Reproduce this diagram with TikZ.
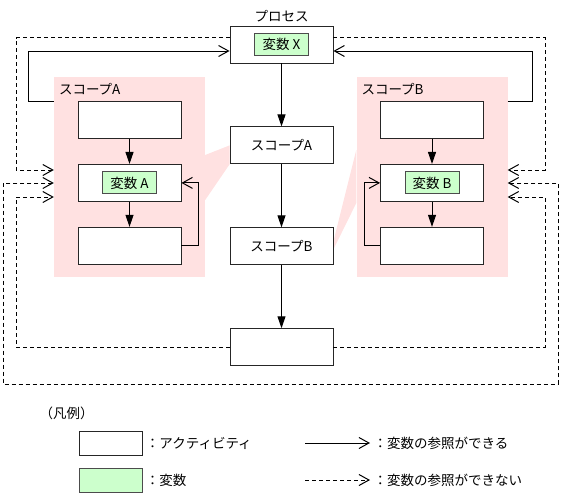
\documentclass[tikz,border=0pt]{standalone}
\usepackage{fontspec}
\setmainfont{Noto Sans CJK JP}
\usetikzlibrary{arrows.meta, positioning, backgrounds}
\definecolor{scopepink}{RGB}{255,225,225}
\definecolor{vargreen}{RGB}{204,255,204}

\begin{document}
\begin{tikzpicture}[
    x=1pt, y=-1pt,
    node distance=63pt,
    font=\fontsize{13.5}{15}\selectfont,
    whitebox/.style={rectangle, draw=black!85, fill=white, line width=0.9pt, minimum width=103pt, minimum height=37pt, inner sep=0pt},
    greenbox/.style={rectangle, draw=black!70, fill=vargreen, line width=0.9pt, minimum width=54pt, minimum height=22pt, inner sep=0pt},
    pinkarea/.style={rectangle, fill=scopepink, minimum width=151pt, minimum height=200pt, inner sep=0pt},
    flow/.style={-{Triangle[length=12pt, width=8pt]}, line width=1pt},
    ref/.style={-{Straight Barb[length=10pt, width=11pt]}, line width=1pt, draw=black},
    noref/.style={ref, dash pattern=on 4pt off 3pt},
    ]
    \useasboundingbox (0,0) rectangle (561,495);

    % scope areas
    \node[pinkarea]          (scA)      at (129.5,177)            {};
    \node[pinkarea]          (scB)      at (432,177)              {};
    \node[anchor=west, inner sep=0pt] (labA) at ([xshift=5pt,yshift=-12pt]scA.north west) {スコープA};
    \node[anchor=west, inner sep=0pt] (labB) at ([xshift=5pt,yshift=-12pt]scB.north west) {スコープB};

    % main flow
    \node[whitebox]          (proc)     at (281.5,44.5)           {};
    \node[greenbox]          (varX)     at (proc)                 {変数 X};
    \node                    (procT)    [above=0pt of proc]       {プロセス};
    \node[whitebox]          (midA)     [below=of proc]           {スコープA};
    \node[whitebox]          (midB)     [below=of midA]           {スコープB};
    \node[whitebox]          (fin)      [below=of midB]           {};

    % inside scope A
    \node[whitebox]          (a1)       at (129.5,120)            {};
    \node[whitebox]          (a2)       [below=25pt of a1]        {};
    \node[greenbox]          (varA)     at (a2)                   {変数 A};
    \node[whitebox]          (a3)       [below=25pt of a2]        {};

    % inside scope B
    \node[whitebox]          (b1)       at (432,120)              {};
    \node[whitebox]          (b2)       [below=25pt of b1]        {};
    \node[greenbox]          (varB)     at (b2)                   {変数 B};
    \node[whitebox]          (b3)       [below=25pt of b2]        {};

    % callout wedges
    \begin{scope}[on background layer]
        \fill[scopepink] ([yshift=22pt]scA.east) -- (midA.west) -- (midA.south west) -- ([yshift=-23pt]scA.east) -- cycle;
        \fill[scopepink] ([yshift=27pt]scB.west) -- ([yshift=5pt]midB.east) -- ([yshift=-3pt]midB.east) -- ([yshift=-26pt]scB.west) -- cycle;
    \end{scope}

    \draw[flow] (proc) -- (midA);
    \draw[flow] (midA) -- (midB);
    \draw[flow] (midB) -- (fin);
    \draw[flow] (a1) -- (a2);
    \draw[flow] (a2) -- (a3);
    \draw[flow] (b1) -- (b2);
    \draw[flow] (b2) -- (b3);

    \draw[ref] (a3.east) -| ([xshift=17pt]a2.east) -- (a2.east);
    \draw[ref] (b3.west) -| ([xshift=-16pt]b2.west) -- (b2.west);

    \draw[ref] ([yshift=76pt]scA.west) -| (28,51) -- ([yshift=-6.5pt]proc.west);
    \draw[ref] ([yshift=76pt]scB.east) -| (532,51) -- ([yshift=-6.5pt]proc.east);

    \draw[noref] ([yshift=6.5pt]proc.west) -| (16,170) -- ([yshift=7pt]scA.west);
    \draw[noref] ([yshift=6.5pt]proc.east) -| (545,170) -- ([yshift=7pt]scB.east);
    \draw[noref] (fin.west) -| (16,197) -- ([yshift=-20pt]scA.west);
    \draw[noref] (fin.east) -| (545,197) -- ([yshift=-20pt]scB.east);
    \draw[noref, {Straight Barb[length=10pt, width=11pt]}-{Straight Barb[length=10pt, width=11pt]}]
        ([yshift=-6pt]scA.west) -| (3,384) -| (558,183) -- ([yshift=-6pt]scB.east);

    % legend
    \node[anchor=west]       (legT)     at (36,413)               {（凡例）};
    \node[whitebox, minimum width=63pt, minimum height=24pt] (legAct) at (110.5,443) {};
    \node[greenbox, minimum width=63pt, minimum height=24pt] (legVar) at (110.5,480) {};
    \node                    (legActT)  [right=0pt of legAct]     {：アクティビティ};
    \node                    (legVarT)  [right=0pt of legVar]     {：変数};
    \coordinate              (legS)     at (305,443);
    \coordinate              (legD)     at (305,480);
    \node[anchor=west]       (legST)    at (370,443)              {：変数の参照ができる};
    \node[anchor=west]       (legDT)    at (370,480)              {：変数の参照ができない};
    \draw[ref] (legS) -- (legST.west);
    \draw[noref] (legD) -- (legDT.west);

\end{tikzpicture}
\end{document}
